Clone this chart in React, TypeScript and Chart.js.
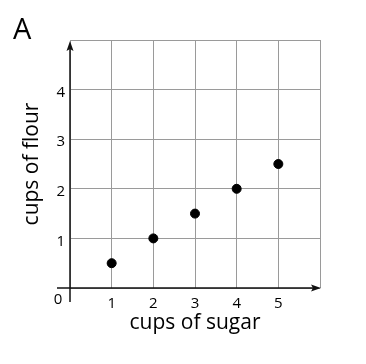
import React, { useEffect, useRef } from "react";
import { Chart, registerables } from "chart.js";

Chart.register(...registerables);

const sugarCups = [1, 2, 3, 4, 5];
const flourCups = [0.5, 1, 1.5, 2, 2.5];
const xTickLabels = ["1", "2", "3", "4", "5"];
const yTickLabels = ["1", "2", "3", "4"];
const xTitle = "cups of sugar";
const yTitle = "cups of flour";
const panelLabel = "A";
const originLabel = "0";

const FONT = "'Open Sans', 'Noto Sans', sans-serif";

const axesPlugin = {
  id: "arrowAxes",
  afterDatasetsDraw(chart: any) {
    const ctx = chart.ctx as CanvasRenderingContext2D;
    const xs = chart.scales.x;
    const ys = chart.scales.y;
    const x0 = xs.getPixelForValue(0);
    const xEnd = xs.getPixelForValue(xs.max);
    const y0 = ys.getPixelForValue(0);
    const yEnd = ys.getPixelForValue(ys.max);
    ctx.save();
    ctx.strokeStyle = "#111";
    ctx.fillStyle = "#111";
    ctx.lineWidth = 1.5;
    // x axis
    ctx.beginPath();
    ctx.moveTo(x0 - 13, y0);
    ctx.lineTo(xEnd - 6, y0);
    ctx.stroke();
    ctx.beginPath();
    ctx.moveTo(xEnd + 1, y0);
    ctx.lineTo(xEnd - 9, y0 - 3.5);
    ctx.lineTo(xEnd - 7, y0);
    ctx.lineTo(xEnd - 9, y0 + 3.5);
    ctx.closePath();
    ctx.fill();
    // y axis
    ctx.beginPath();
    ctx.moveTo(x0, y0 + 14);
    ctx.lineTo(x0, yEnd + 7);
    ctx.stroke();
    ctx.beginPath();
    ctx.moveTo(x0, yEnd + 1);
    ctx.lineTo(x0 - 3.5, yEnd + 11);
    ctx.lineTo(x0, yEnd + 9);
    ctx.lineTo(x0 + 3.5, yEnd + 11);
    ctx.closePath();
    ctx.fill();
    // origin label
    ctx.font = `15px ${FONT}`;
    ctx.textAlign = "center";
    ctx.textBaseline = "middle";
    ctx.fillStyle = "#000";
    ctx.fillText(originLabel, x0 - 12, y0 + 12);
    // panel label
    ctx.font = `29px ${FONT}`;
    ctx.textAlign = "left";
    ctx.textBaseline = "alphabetic";
    ctx.fillText(panelLabel, 13, 39);
    ctx.restore();
  },
};

export default function App() {
  const ref = useRef<HTMLCanvasElement | null>(null);

  useEffect(() => {
    if (!ref.current) return;
    const chart = new Chart(ref.current, {
      type: "scatter",
      data: {
        datasets: [
          {
            data: sugarCups.map((s, i) => ({ x: s, y: flourCups[i] })),
            backgroundColor: "#000",
            borderColor: "#000",
            pointRadius: 4.5,
            pointHoverRadius: 4.5,
          },
        ],
      },
      options: {
        responsive: false,
        animation: false,
        events: [],
        layout: { padding: { top: 40, right: 46, left: 0, bottom: 0 } },
        plugins: {
          legend: { display: false },
          tooltip: { enabled: false },
          title: { display: false },
        },
        scales: {
          x: {
            type: "linear",
            min: 0,
            max: 6,
            afterFit: (s: any) => {
              s.height = 76;
            },
            border: { display: false },
            grid: { color: "#9a9a9a", lineWidth: 1, drawTicks: false },
            ticks: {
              stepSize: 1,
              padding: 7,
              color: "#000",
              font: { family: FONT, size: 15 },
              callback: (v: any) => {
                const i = xTickLabels.indexOf(String(v));
                return i >= 0 ? xTickLabels[i] : "";
              },
            },
            title: {
              display: true,
              text: xTitle,
              color: "#000",
              font: { family: FONT, size: 21 },
              padding: { top: 0, bottom: 28 },
            },
          },
          y: {
            type: "linear",
            min: 0,
            max: 5,
            afterFit: (s: any) => {
              s.width = 70;
            },
            border: { display: false },
            grid: { color: "#9a9a9a", lineWidth: 1, drawTicks: false },
            ticks: {
              stepSize: 1,
              padding: 5,
              labelOffset: 3,
              color: "#000",
              font: { family: FONT, size: 15 },
              callback: (v: any) => {
                const i = yTickLabels.indexOf(String(v));
                return i >= 0 ? yTickLabels[i] : "";
              },
            },
            title: {
              display: true,
              text: yTitle,
              color: "#000",
              font: { family: FONT, size: 21 },
              padding: { top: 19, bottom: 0 },
            },
          },
        },
      },
      plugins: [axesPlugin],
    });
    return () => chart.destroy();
  }, []);

  return (
    <div style={{ position: "fixed", left: 0, top: 0, width: 366, height: 364, background: "#fff" }}>
      <canvas ref={ref} width={366} height={364} style={{ display: "block" }} />
    </div>
  );
}
